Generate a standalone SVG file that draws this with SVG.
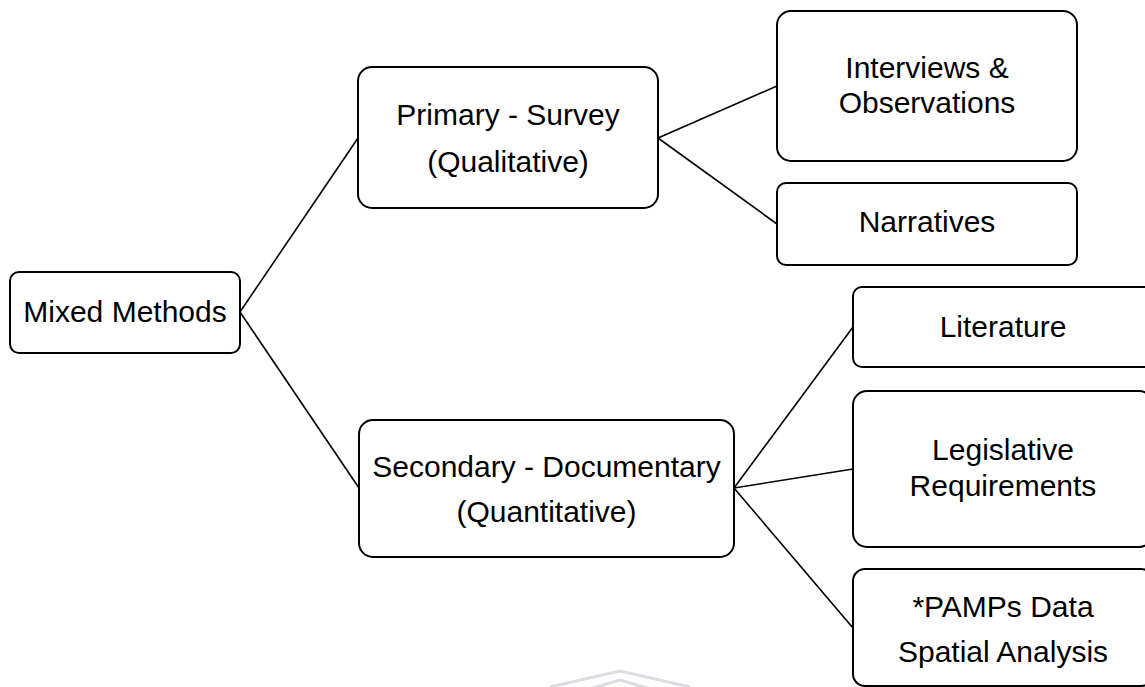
<svg xmlns="http://www.w3.org/2000/svg" width="1145" height="687" viewBox="0 0 1145 687">
  <style>
    .box { fill: #ffffff; stroke: #000000; stroke-width: 2; }
    .lbl { font-family: "Liberation Sans", Arial, sans-serif; font-size: 30px; fill: #000000; text-anchor: middle; }
    .edge { stroke: #000000; stroke-width: 1.6; fill: none; }
    .mark { fill: none; stroke: #dcdce3; stroke-width: 3; }
  </style>
  <rect width="1145" height="687" fill="#ffffff"/>

  <!-- faint double chevron along the bottom edge -->
  <polyline class="mark" points="550,687 620,671 690,687"/>
  <polyline class="mark" points="585,690 620,680 655,690"/>

  <g id="connectors">
    <line class="edge" x1="240" y1="312" x2="358" y2="138"/>
    <line class="edge" x1="240" y1="312" x2="359" y2="488"/>
    <line class="edge" x1="658" y1="138" x2="777" y2="86"/>
    <line class="edge" x1="658" y1="138" x2="777" y2="224"/>
    <line class="edge" x1="734" y1="488" x2="853" y2="327"/>
    <line class="edge" x1="734" y1="488" x2="853" y2="469"/>
    <line class="edge" x1="734" y1="488" x2="853" y2="628"/>
  </g>

  <g id="mixed-methods">
    <rect class="box" x="10" y="272" width="230" height="81" rx="9"/>
    <text class="lbl" x="125" y="322">Mixed Methods</text>
  </g>

  <g id="primary-survey">
    <rect class="box" x="358" y="67" width="300" height="141" rx="14"/>
    <text class="lbl" x="508" y="125">Primary - Survey</text>
    <text class="lbl" x="508" y="172">(Qualitative)</text>
  </g>

  <g id="secondary-documentary">
    <rect class="box" x="359" y="420" width="375" height="137" rx="14"/>
    <text class="lbl" x="546.5" y="477">Secondary - Documentary</text>
    <text class="lbl" x="546.5" y="522">(Quantitative)</text>
  </g>

  <g id="interviews">
    <rect class="box" x="777" y="11" width="300" height="150" rx="14"/>
    <text class="lbl" x="927" y="78">Interviews &amp;</text>
    <text class="lbl" x="927" y="113">Observations</text>
  </g>

  <g id="narratives">
    <rect class="box" x="777" y="183" width="300" height="82" rx="9"/>
    <text class="lbl" x="927" y="232">Narratives</text>
  </g>

  <g id="literature">
    <rect class="box" x="853" y="287" width="300" height="80" rx="9"/>
    <text class="lbl" x="1003" y="337">Literature</text>
  </g>

  <g id="legislative">
    <rect class="box" x="853" y="391" width="300" height="156" rx="14"/>
    <text class="lbl" x="1003" y="460">Legislative</text>
    <text class="lbl" x="1003" y="496">Requirements</text>
  </g>

  <g id="pamps">
    <rect class="box" x="853" y="569" width="300" height="117" rx="12"/>
    <text class="lbl" x="1003" y="617">*PAMPs Data</text>
    <text class="lbl" x="1003" y="662">Spatial Analysis</text>
  </g>
</svg>
